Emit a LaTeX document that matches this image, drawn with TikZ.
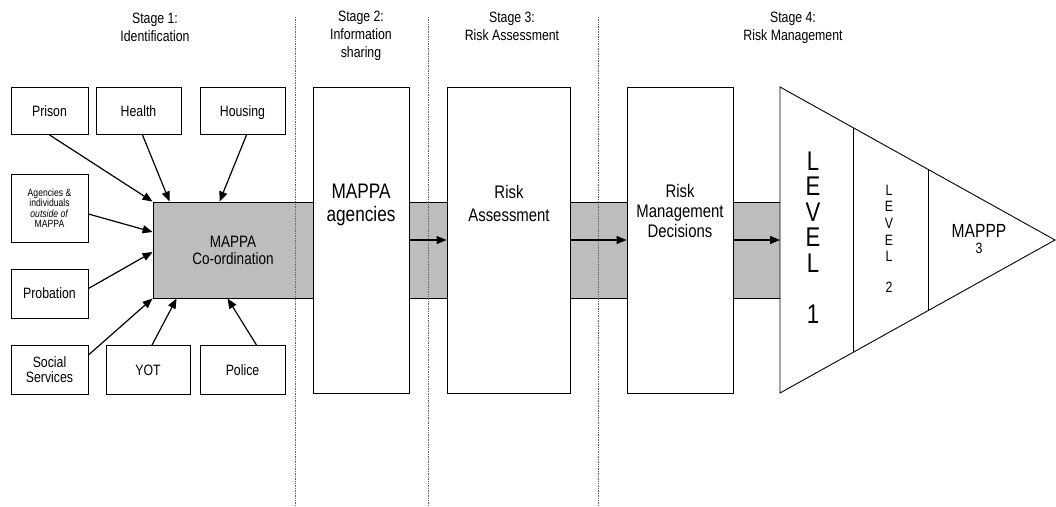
\documentclass[tikz,border=0pt]{standalone}
\usepackage{fontspec}
\setmainfont{Liberation Sans}[FakeStretch=0.82]
\usetikzlibrary{arrows.meta,calc}
\newcommand\fsz[2]{\fontsize{#1}{#2}\selectfont}
\definecolor{bandgray}{gray}{0.74}
\begin{document}
\begin{tikzpicture}[x=1pt,y=-1pt,
  box/.style={draw, fill=white, line width=0.9pt, inner sep=0pt, align=center},
  oneline/.style={text depth=0pt},
  feed/.style={-{Triangle[length=10pt,width=8pt]}, line width=1.2pt},
  stagehead/.style={align=center, anchor=base, font=\fsz{15}{18}},
  divider/.style={black!60, densely dotted, line width=0.7pt}
]
\useasboundingbox (0,0) rectangle (1056,506);

% shaded flow band running behind the stage boxes
\fill[bandgray] (153,202) rectangle (781,298);
\draw[line width=0.9pt] (153,202) -- (781,202) (153,298) -- (781,298);

% stage dividers
\draw[divider] (295,17) -- (295,506);
\draw[divider] (428,17) -- (428,506);
\draw[divider] (598,17) -- (598,506);

% stage headings (anchored on the baseline of their last line)
\node[stagehead] (s1) at (155,41) {Stage 1:\\Identification};
\node[stagehead] (s2) at (361,57.5) {Stage 2:\\Information\\sharing};
\node[stagehead] (s3) at (512,40.5) {Stage 3:\\Risk Assessment};
\node[stagehead] (s4) at (793,40) {Stage 4:\\Risk Management};

% stage 1: referring agencies
\node[box, oneline, minimum width=77pt, minimum height=47pt, font=\fsz{15}{16}] (prison) at (49.5,111) {Prison};
\node[box, oneline, minimum width=85pt, minimum height=47pt, font=\fsz{15}{16}] (health) at (138.5,111) {Health};
\node[box, oneline, minimum width=85pt, minimum height=47pt, font=\fsz{15}{16}] (housing) at (242.5,111) {Housing};
\node[box, minimum width=77pt, minimum height=68pt, font=\fsz{10.5}{10.5}] (agencies) at (49.5,208) {Agencies \&\\individuals\\\textit{outside of}\\MAPPA};
\node[box, oneline, minimum width=77pt, minimum height=49pt, font=\fsz{15}{16}] (probation) at (49.5,293.5) {Probation};
\node[box, minimum width=77pt, minimum height=49pt, font=\fsz{15}{15}] (social) at (49.5,370) {Social\\Services};
\node[box, oneline, minimum width=84pt, minimum height=49pt, font=\fsz{15}{16}] (yot) at (148,370) {YOT};
\node[box, oneline, minimum width=85pt, minimum height=49pt, font=\fsz{15}{16}] (police) at (242.5,370) {Police};

% co-ordination hub on the band
\node[draw, line width=0.9pt, minimum width=160pt, minimum height=96pt, inner sep=0pt,
      align=center, font=\fsz{16.5}{17}] (coord) at (233,250) {MAPPA\\Co-ordination};

% stages 2 and 3 and risk management decisions
\node[box, minimum width=96pt, minimum height=306pt] (magencies) at (361,240) {};
\node[anchor=base, align=center, font=\fsz{21}{23.5}] (magtext) at (361,221.5) {MAPPA\\agencies};
\node[box, minimum width=123pt, minimum height=306pt] (riska) at (508.5,240) {};
\node[anchor=base, align=center, font=\fsz{18.2}{23}] (riskatext) at (509,221) {Risk\\Assessment};
\node[box, minimum width=106pt, minimum height=306pt] (rmd) at (680,240) {};
\node[anchor=base, align=center, font=\fsz{18.2}{20}] (rmdtext) at (680,237) {Risk\\Management\\Decisions};

% risk management levels
\draw[line width=0.9pt, fill=white] (780,87) -- (1055,240) -- (780,393) -- cycle;
\draw[line width=0.9pt] (853,127.6) -- (853,352.4);
\draw[line width=0.9pt] (928,169.3) -- (928,310.7);
\coordinate (levels) at (780,240);
\node[anchor=base, align=center, font=\fsz{27}{25.5}] (lvlone) at (813,323) {L\\E\\V\\E\\L\\[25.5pt]1};
\node[anchor=base, align=center, font=\fsz{15}{16.7}] (lvltwo) at (889,292.5) {L\\E\\V\\E\\L\\[14pt]2};
\node[anchor=base, align=center, font=\fsz{19}{16}] (lvlthree) at (979,253) {MAPPP\\{\fsz{15}{16}3}};

% referrals into the hub
\draw[feed] (prison.south) -- (coord.north west);
\draw[feed] ($(health.south)+(4,0)$) -- ($(coord.north west)+(17,0)$);
\draw[feed] ($(housing.south)+(4,0)$) -- ($(coord.north west)+(67,0)$);
\draw[feed] ($(agencies.east)+(0,6)$) -- ($(coord.west)+(0,-18)$);
\draw[feed] ($(probation.east)+(0,-5)$) -- ($(coord.west)+(0,2)$);
\draw[feed] ($(social.east)+(0,-15)$) -- (coord.south west);
\draw[feed] ($(yot.north)+(4,0)$) -- ($(coord.south west)+(24,0)$);
\draw[feed] ($(police.north)+(14,0)$) -- ($(coord.south west)+(75,0)$);

% flow between stages
\draw[feed] (magencies.east) -- (riska.west);
\draw[feed] (riska.east) -- (rmd.west);
\draw[feed] (rmd.east) -- (levels);
\end{tikzpicture}
\end{document}
